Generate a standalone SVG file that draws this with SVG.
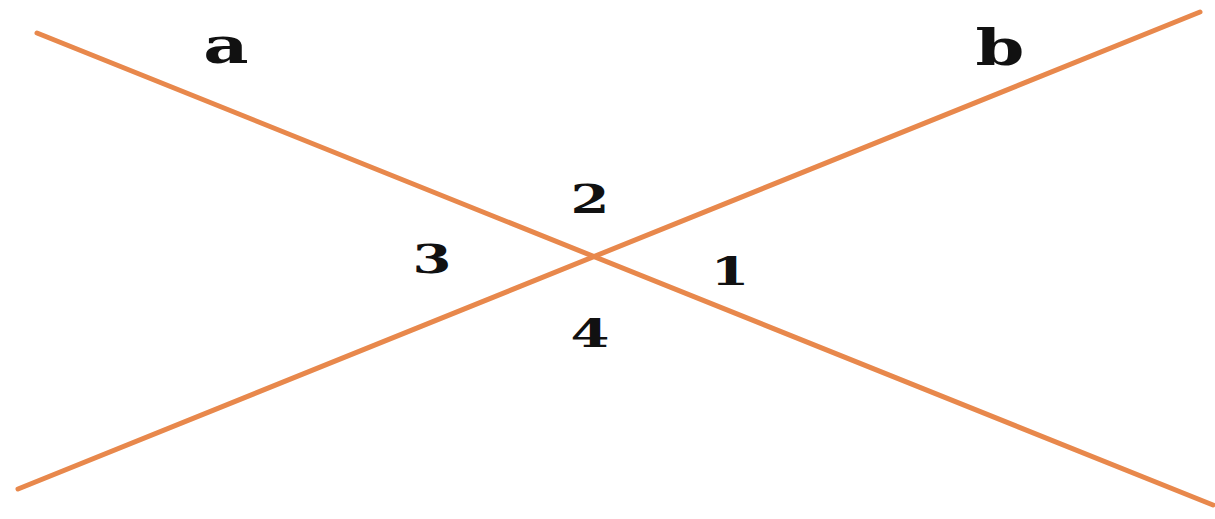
<svg xmlns="http://www.w3.org/2000/svg" width="1215" height="519" viewBox="0 0 1215 519">
<style>
.ln{stroke:#e8884c;stroke-width:5;stroke-linecap:round;fill:none}
.lb{font-family:"DejaVu Serif","Liberation Serif",serif;font-weight:bold;fill:#111;text-anchor:middle}
</style>
<rect width="1215" height="519" fill="#fff"/>
<g id="connectors">
<line class="ln" x1="37" y1="33" x2="1213" y2="505"/>
<line class="ln" x1="18" y1="489" x2="1200" y2="12"/>
</g>
<g id="label-a"><text class="lb" font-size="50" transform="translate(226,63) scale(1.4,1)">a</text></g>
<g id="label-b"><text class="lb" font-size="50" transform="translate(1000,65) scale(1.4,1)">b</text></g>
<g id="angle-2"><text class="lb" font-size="40" transform="translate(590,213) scale(1.4,1)">2</text></g>
<g id="angle-3"><text class="lb" font-size="40" transform="translate(432,273) scale(1.4,1)">3</text></g>
<g id="angle-1"><text class="lb" font-size="40" transform="translate(730,285) scale(1.4,1)">1</text></g>
<g id="angle-4"><text class="lb" font-size="40" transform="translate(590,347) scale(1.4,1)">4</text></g>
</svg>
